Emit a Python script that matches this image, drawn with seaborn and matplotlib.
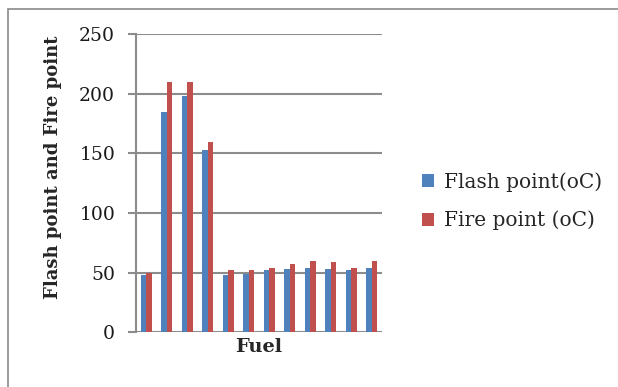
import pandas as pd
import seaborn as sns
import matplotlib.pyplot as plt
from matplotlib.patches import Rectangle

# values
fuels = [str(i) for i in range(1, 13)]
flash_point = [48, 185, 198, 153, 48, 49, 52, 53, 54, 53, 52, 54]
fire_point = [50, 210, 210, 160, 52, 52, 54, 57, 60, 59, 54, 60]
series_names = ['Flash point(oC)', 'Fire point (oC)']
yticks = [0, 50, 100, 150, 200, 250]

df = pd.DataFrame({
    'Fuel': fuels * 2,
    'value': flash_point + fire_point,
    'series': [series_names[0]] * len(fuels) + [series_names[1]] * len(fuels),
})

sns.set_style('white')
plt.rcParams['font.family'] = ['DejaVu Serif']

fig = plt.figure(figsize=(6.18, 3.87), dpi=100)
ax = fig.add_axes([0.220, 0.142, 0.398, 0.769])

grid_col = '#8c8c8c'
sns.barplot(data=df, x='Fuel', y='value', hue='series',
            palette=['#4F81BD', '#C0504D'], width=0.55, gap=0,
            saturation=1, linewidth=0, ax=ax, zorder=3)

ax.set_ylim(0, 250)
ax.set_yticks(yticks)
ax.set_xticks([])
ax.set_xlim(-0.5, len(fuels) - 0.5)
ax.yaxis.grid(True, color=grid_col, linewidth=1.5, zorder=0)
ax.set_axisbelow(True)
for s in ['top', 'right', 'bottom']:
    ax.spines[s].set_visible(False)
ax.spines['left'].set_color(grid_col)
ax.spines['left'].set_linewidth(1.5)
ax.tick_params(axis='y', left=True, length=6, width=1.5, color=grid_col,
               labelsize=13.5, pad=9, labelcolor='#1a1a1a')

ax.set_xlabel('Fuel', fontsize=14, fontweight='bold', labelpad=4)
ax.set_ylabel('Flash point and Fire point', fontsize=13, fontweight='bold')
ax.yaxis.set_label_coords(-0.30, 0.555)

leg = ax.legend(loc='center left', bbox_to_anchor=(1.09, 0.44), frameon=False,
                fontsize=14.5, handlelength=0.6, handleheight=0.6,
                handletextpad=0.5, labelspacing=0.95)

# outer frame as in the reference
fig.patches.append(Rectangle((8 / 618, -0.05), 1.0, 1 - 9 / 387 + 0.05,
                             transform=fig.transFigure, fill=False,
                             edgecolor='#8a8a8a', linewidth=1.2))

fig.savefig('out.png', dpi=100)
